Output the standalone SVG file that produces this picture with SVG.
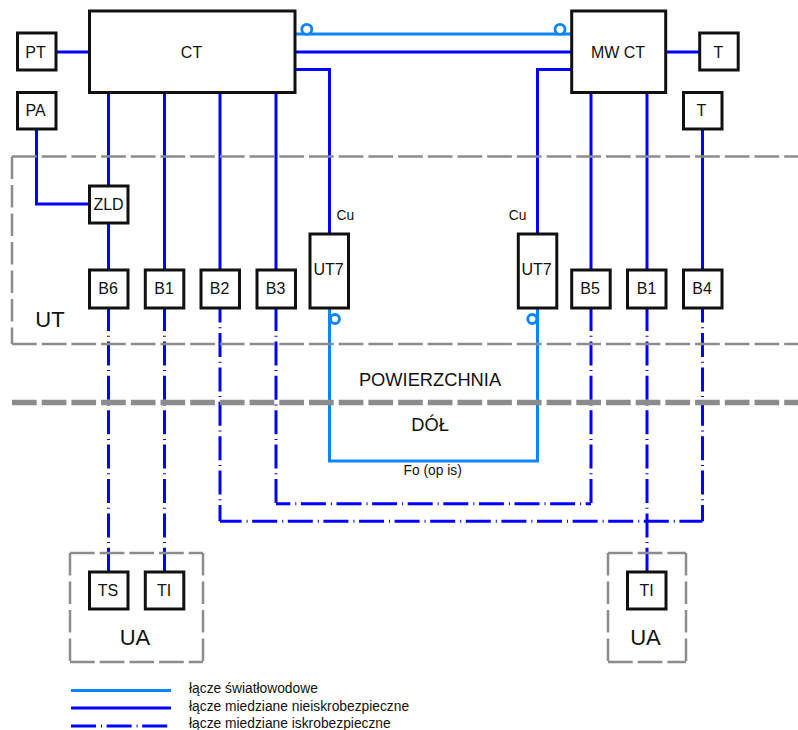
<svg xmlns="http://www.w3.org/2000/svg" width="798" height="730" viewBox="0 0 798 730">
<style>
text{font-family:"Liberation Sans",Arial,sans-serif;fill:#111;text-anchor:middle}
.n{font-size:16px}.b{font-size:22px}.m{font-size:18.300px}.s{font-size:13.800px}
.st{text-anchor:start}
.box{fill:#fff;stroke:#111;stroke-width:3}
.cu,.is,.ish,.fo{fill:none;stroke-width:3}
.cu{stroke:#0000ff}
.fo{stroke:#0a84ff}
.is{stroke:#0000ff;stroke-dasharray:24 4.7 1 4.7}
.ish{stroke:#0000ff;stroke-dasharray:25 5 1 4.6}
.reg,.regv{fill:none;stroke:#8c8c8c;stroke-width:2.500}
.reg{stroke-dasharray:24.7 5}
.regv{stroke-dasharray:22.5 6}
.sur{fill:none;stroke:#8c8c8c;stroke-width:5.500;stroke-dasharray:24.7 5}
.ring{fill:#fff;stroke:#0a84ff;stroke-width:2.800}
</style>
<g id="connectors">
<path class="fo" d="M295 34H571.700"/>
<path class="cu" d="M56 52H89.500M295 52H571.700M665.700 52H699.700"/>
<path class="cu" d="M295 69.500H329.500V234M571.700 69.500H537.500V234"/>
<path class="cu" d="M36.500 129V204H89.500"/>
<path class="cu" d="M108.500 92.500V186M108.500 223V270M164.500 92.500V270M220 92.500V270M276 92.500V270M591 92.500V270M647 92.500V270M702.500 129V270"/>
<path class="fo" d="M329.500 308V461H537.500V308"/>
<path class="is" stroke-dashoffset="1" d="M108.500 308V572M164.500 308V572"/>
<path class="is" stroke-dashoffset="1" d="M647 308V572"/>
<path class="is" stroke-dashoffset="1" d="M276 308V504M591 308V504"/>
<path class="is" stroke-dashoffset="9.400" d="M220 308V521.300M702.500 308V521.300"/>
<path class="ish" stroke-dashoffset="10.700" d="M276 503.700H591"/>
<path class="ish" stroke-dashoffset="3.400" d="M220 521.300H702.500"/>
<path class="fo" d="M71 690.500H171"/>
<path class="cu" d="M71 708H171"/>
<path class="ish" d="M71 726H171"/>
</g>
<g id="region-UT">
<path class="reg" d="M12 156.500H798M12 344H798"/>
<path class="regv" d="M12 156.500V344"/>
<text class="b" x="50" y="326.500">UT</text>
</g>
<g id="surface-line"><path class="sur" d="M12 402.500H798"/></g>
<g id="region-UA-left">
<path class="reg" d="M70 553H203M70 662H203"/>
<path class="regv" d="M70 553V662M203 553V662"/>
<text class="b" x="135" y="645">UA</text>
</g>
<g id="region-UA-right">
<path class="reg" d="M608 553H686M608 662H686"/>
<path class="regv" d="M608 553V662M686 553V662"/>
<text class="b" x="645.500" y="645">UA</text>
</g>
<g id="node-CT"><rect class="box" x="89.500" y="11" width="205.500" height="81.500"/><text class="n" x="191.500" y="57.500">CT</text></g>
<g id="node-MWCT"><rect class="box" x="571.700" y="11" width="94" height="81.500"/><text class="n" x="618" y="57.500">MW CT</text></g>
<g id="node-PT"><rect class="box" x="17.500" y="33" width="38.500" height="37"/><text class="n" x="35.500" y="57.500">PT</text></g>
<g id="node-PA"><rect class="box" x="17.500" y="92.500" width="38.500" height="36.500"/><text class="n" x="35.500" y="116">PA</text></g>
<g id="node-ZLD"><rect class="box" x="89.500" y="186" width="38.500" height="37"/><text class="n" x="108.500" y="210">ZLD</text></g>
<g id="node-T1"><rect class="box" x="699.700" y="33" width="38.500" height="37"/><text class="n" x="718.500" y="57.500">T</text></g>
<g id="node-T2"><rect class="box" x="683.500" y="92.500" width="38.500" height="36.500"/><text class="n" x="701.500" y="116">T</text></g>
<g id="node-B6"><rect class="box" x="89.500" y="270" width="38.500" height="38"/><text class="n" x="108" y="294">B6</text></g>
<g id="node-B1a"><rect class="box" x="145.300" y="270" width="38.500" height="38"/><text class="n" x="164" y="294">B1</text></g>
<g id="node-B2"><rect class="box" x="201" y="270" width="38.500" height="38"/><text class="n" x="219.500" y="294">B2</text></g>
<g id="node-B3"><rect class="box" x="257" y="270" width="38.500" height="38"/><text class="n" x="275.500" y="294">B3</text></g>
<g id="node-UT7a"><rect class="box" x="310" y="234" width="38.500" height="74"/><text class="n" x="328.500" y="275">UT7</text></g>
<g id="node-UT7b"><rect class="box" x="518.300" y="234" width="38.500" height="74"/><text class="n" x="536.500" y="275">UT7</text></g>
<g id="node-B5"><rect class="box" x="571.700" y="270" width="38.500" height="38"/><text class="n" x="590" y="294">B5</text></g>
<g id="node-B1b"><rect class="box" x="627.500" y="270" width="38.500" height="38"/><text class="n" x="646.500" y="294">B1</text></g>
<g id="node-B4"><rect class="box" x="683.500" y="270" width="38.500" height="38"/><text class="n" x="702" y="294">B4</text></g>
<g id="node-TS"><rect class="box" x="89.500" y="572" width="38.500" height="37"/><text class="n" x="108" y="596">TS</text></g>
<g id="node-TIa"><rect class="box" x="145.300" y="572" width="38.500" height="37"/><text class="n" x="164" y="596">TI</text></g>
<g id="node-TIb"><rect class="box" x="627.500" y="572" width="38.500" height="37"/><text class="n" x="646.500" y="596">TI</text></g>
<g id="rings">
<circle class="ring" cx="306.800" cy="29.300" r="5"/>
<circle class="ring" cx="560" cy="29.300" r="5"/>
<circle class="ring" cx="335" cy="319" r="4.500"/>
<circle class="ring" cx="532.300" cy="319" r="4.500"/>
</g>
<g id="labels">
<text class="m" x="430" y="385.500">POWIERZCHNIA</text>
<text class="m" x="430" y="430.500">DÓŁ</text>
<text class="s st" x="336.500" y="220">Cu</text>
<text class="s st" x="508.700" y="220">Cu</text>
<text class="s st" x="403.500" y="475">Fo (op is)</text>
<text class="s st" x="189" y="693">łącze światłowodowe</text>
<text class="s st" x="189" y="710.500">łącze miedziane nieiskrobezpieczne</text>
<text class="s st" x="189" y="728">łącze miedziane iskrobezpieczne</text>
</g>
</svg>
